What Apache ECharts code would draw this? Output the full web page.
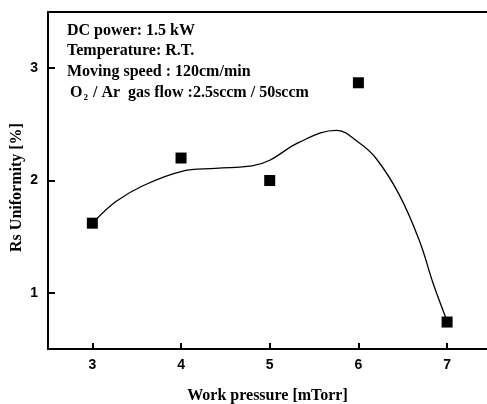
<!DOCTYPE html>
<html>
<head>
<meta charset="utf-8">
<script src="https://cdn.jsdelivr.net/npm/echarts@6/dist/echarts.min.js"></script>
<style>
  html, body { margin: 0; padding: 0; background: #fff; }
  #chart { width: 487px; height: 404px; }
</style>
</head>
<body>
<div id="chart"></div>
<script>
// measured points (work pressure, Rs uniformity)
const pressure = [3, 4, 5, 6, 7]
const uniformity = [1.62, 2.2, 2.0, 2.87, 0.74]

// fitted curve
const fitX = [3.04, 3.27, 3.57, 4.0, 4.39, 4.8, 5.0, 5.33, 5.75, 6.0, 6.2, 6.46, 6.69, 6.84, 6.99]
const fitY = [1.65, 1.815, 1.953, 2.08, 2.108, 2.13, 2.18, 2.34, 2.446, 2.34, 2.196, 1.874, 1.46, 1.09, 0.77]

const xTicks = [3, 4, 5, 6, 7]
const yTicks = [1, 2, 3]

const notes = [
  'DC power: 1.5 kW',
  'Temperature: R.T.',
  'Moving speed : 120cm/min'
]

const chart = echarts.init(document.getElementById('chart'))

const serif = '"Liberation Serif", "Times New Roman", serif'
const sans = '"Liberation Sans", Arial, sans-serif'

const noteText = notes.map((t, i) => ({
  type: 'text',
  left: 67,
  top: 22.5 + i * 20.7,
  style: { text: t, font: 'bold 16px ' + serif, fill: '#000' }
}))

noteText.push({
  type: 'text',
  left: 70,
  top: 84.5,
  style: {
    text: '{n|O}{s|2}{n| / Ar  gas flow :2.5sccm / 50sccm}',
    rich: {
      n: { fontFamily: serif, fontWeight: 'bold', fontSize: 16, fill: '#000' },
      s: { fontFamily: serif, fontWeight: 'bold', fontSize: 9, fill: '#000', padding: [11, 1, 0, 1] }
    }
  }
})

const option = {
  animation: false,
  grid: { left: 48, top: 12, bottom: 55, right: 0, outerBoundsMode: 'none' },
  xAxis: [
    {
      type: 'value',
      min: 2.5, max: 7.45,
      name: 'Work pressure [mTorr]',
      nameLocation: 'middle',
      nameGap: 39,
      nameMoveOverlap: false,
      nameTextStyle: { fontFamily: serif, fontWeight: 'bold', fontSize: 16, color: '#000' },
      axisLine: { onZero: false, lineStyle: { color: '#000', width: 2 } },
      axisTick: { inside: true, length: 6, customValues: xTicks, lineStyle: { color: '#000', width: 2 } },
      axisLabel: {
        fontFamily: sans, fontWeight: 'bold', fontSize: 14, color: '#000', margin: 9,
        customValues: xTicks
      },
      splitLine: { show: false }
    },
    {
      type: 'value',
      position: 'top',
      min: 2.5, max: 7.45,
      axisLine: { onZero: false, lineStyle: { color: '#000', width: 2 } },
      axisTick: { show: false },
      axisLabel: { show: false },
      splitLine: { show: false }
    }
  ],
  yAxis: {
    type: 'value',
    min: 0.5, max: 3.5,
    name: 'Rs Uniformity [%]',
    nameLocation: 'middle',
    nameGap: 23,
    nameMoveOverlap: false,
    nameTextStyle: {
      fontFamily: serif, fontWeight: 'bold', fontSize: 16, color: '#000',
      padding: [0, 14, 0, 0]
    },
    axisLine: { onZero: false, lineStyle: { color: '#000', width: 2 } },
    axisTick: { inside: true, length: 7, customValues: yTicks, lineStyle: { color: '#000', width: 2 } },
    axisLabel: {
      fontFamily: sans, fontWeight: 'bold', fontSize: 14, color: '#000', margin: 10,
      customValues: yTicks
    },
    splitLine: { show: false }
  },
  graphic: noteText,
  series: [
    {
      type: 'line',
      data: fitX.map((x, i) => [x, fitY[i]]),
      smooth: 0.4,
      showSymbol: false,
      lineStyle: { color: '#000', width: 1.3 },
      z: 2
    },
    {
      type: 'scatter',
      data: pressure.map((x, i) => [x, uniformity[i]]),
      symbol: 'rect',
      symbolSize: 11,
      itemStyle: { color: '#000', opacity: 1 },
      z: 3
    }
  ]
}

chart.setOption(option)
</script>
</body>
</html>
